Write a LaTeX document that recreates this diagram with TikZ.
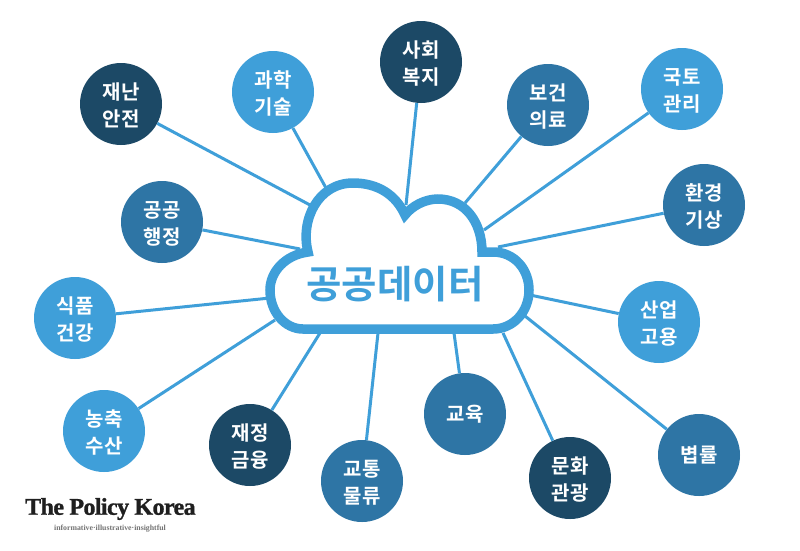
\documentclass[tikz,border=0pt]{standalone}
\usepackage{fontspec}
\setmainfont{Liberation Serif}
\newfontfamily\krfont{Noto Sans CJK KR}[BoldFont={Noto Sans CJK KR Bold}]
\newfontfamily\logofont{Liberation Serif Bold}[LetterSpace=-2.5,FakeBold=1.2]
\definecolor{cdark}{HTML}{1C4966}
\definecolor{cmid}{HTML}{2E75A5}
\definecolor{clight}{HTML}{3F9FD9}
\newcommand\twolines[2]{\rule{0pt}{20pt}#1\\#2}
\tikzset{
  topic/.style={circle,minimum size=82pt,inner sep=0pt,text=white,align=center,font=\krfont\bfseries\fontsize{20}{27}\selectfont},
  dk/.style={topic,fill=cdark}, md/.style={topic,fill=cmid}, lt/.style={topic,fill=clight},
  link/.style={draw=clight,line width=3pt},
  cloudline/.style={draw=clight,line width=9.5pt,fill=white,line join=miter},
}
\begin{document}
\begin{tikzpicture}[x=1pt,y=-1pt]
\useasboundingbox (0,0) rectangle (800,550);
\fill[white] (0,0) rectangle (800,550);
\coordinate (c1) at (310,205);
\coordinate (c2) at (326,188);
\coordinate (c3) at (406,205);
\coordinate (c4) at (465,203);
\coordinate (c5) at (484,230);
\coordinate (c6) at (498,247);
\coordinate (c7) at (300,249);
\coordinate (c8) at (270,298);
\coordinate (c9) at (530,295);
\coordinate (c10) at (275,320);
\coordinate (c11) at (320,333);
\coordinate (c12) at (378,333);
\coordinate (c13) at (454,333);
\coordinate (c14) at (503,333);
\coordinate (c15) at (525,316);
\node[dk] (n1) at (121,104) {\twolines{재난}{안전}};
\node[lt] (n2) at (273,92) {\twolines{과학}{기술}};
\node[dk] (n3) at (421,62) {\twolines{사회}{복지}};
\node[md] (n4) at (548,105) {\twolines{보건}{의료}};
\node[lt] (n5) at (682,89) {\twolines{국토}{관리}};
\node[md] (n6) at (704,205) {\twolines{환경}{기상}};
\node[md] (n7) at (162,222) {\twolines{공공}{행정}};
\node[lt] (n8) at (75,318) {\twolines{식품}{건강}};
\node[lt] (n9) at (659,322) {\twolines{산업}{고용}};
\node[lt] (n10) at (104,431) {\twolines{농축}{수산}};
\node[dk] (n11) at (250,445) {\twolines{재정}{금융}};
\node[md] (n12) at (362,481) {\twolines{교통}{물류}};
\node[md] (n13) at (465,414) {교육};
\node[dk] (n14) at (570,478) {\twolines{문화}{관광}};
\node[md] (n15) at (699,455) {볍률};
\draw[link] (n1) -- (c1);
\draw[link] (n2) -- (c2);
\draw[link] (n3) -- (c3);
\draw[link] (n4) -- (c4);
\draw[link] (n5) -- (c5);
\draw[link] (n6) -- (c6);
\draw[link] (n7) -- (c7);
\draw[link] (n8) -- (c8);
\draw[link] (n9) -- (c9);
\draw[link] (n10) -- (c10);
\draw[link] (n11) -- (c11);
\draw[link] (n12) -- (c12);
\draw[link] (n13) -- (c13);
\draw[link] (n14) -- (c14);
\draw[link] (n15) -- (c15);
\path[cloudline] (405,215)
  .. controls (412,206) and (425,199) .. (438,199)
  .. controls (465,199) and (482,222) .. (482,252)
  -- (493,252)
  .. controls (515,252) and (529,270) .. (529,290)
  .. controls (529,312) and (513,329) .. (493,329)
  -- (303,329)
  .. controls (285,329) and (270,312) .. (270,290)
  .. controls (270,272) and (285,255) .. (308,252)
  .. controls (300,220) and (318,183) .. (353,183)
  .. controls (378,183) and (396,195) .. (405,215) -- cycle;
\node[text=clight,font=\krfont\bfseries\fontsize{38.5}{42}\selectfont,inner sep=0pt] (title) at (395,284) {공공데이터};
\node[font=\logofont\fontsize{24}{26}\selectfont,text=black!88,inner sep=0pt,anchor=west] (logo) at (25,509) {The Policy Korea};
\node[font=\bfseries\fontsize{7.8}{9}\selectfont,text=black!55,inner sep=0pt] (tag) at (110,529) {informative·illustrative·insightful};
\end{tikzpicture}
\end{document}
